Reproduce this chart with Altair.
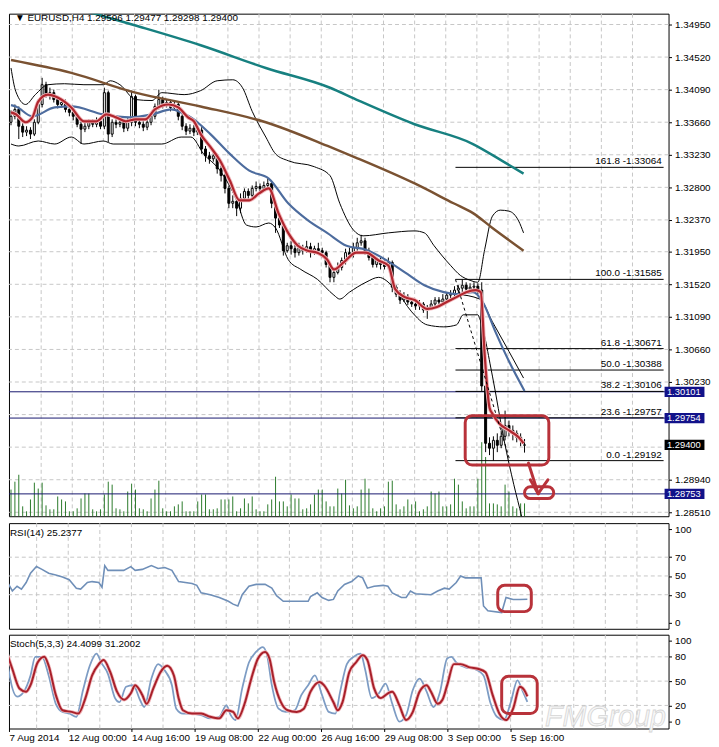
import json
import altair as alt
import pandas as pd

FONT = "Liberation Sans"

# ---------------- candles (bar index 0..132) ----------------
opens = [1.33659,1.33738,1.33829,1.33607,1.33529,1.33555,1.33503,1.33659,1.33894,1.34155,
         1.34024,1.34050,1.33959,1.33894,1.33920,1.33829,1.33790,1.33738,1.33633,1.33568,
         1.33607,1.33659,1.33633,1.33672,1.33607,1.34050,1.33503,1.33659,1.33633,1.33659,
         1.33581,1.33659,1.33998,1.33659,1.33633,1.33594,1.33659,1.33738,1.33868,1.33959,
         1.33894,1.33920,1.33855,1.33894,1.33738,1.33607,1.33542,1.33581,1.33529,1.33555,
         1.33307,1.33216,1.33177,1.33216,1.33046,1.32955,1.32786,1.32590,1.32616,1.32525,
         1.32655,1.32747,1.32694,1.32786,1.32812,1.32786,1.32825,1.32851,1.32590,1.32394,
         1.32303,1.31964,1.32029,1.31990,1.31938,1.32003,1.31964,1.32016,1.31938,1.31990,
         1.31964,1.31938,1.31782,1.31612,1.31677,1.31742,1.31834,1.31938,1.31912,1.32003,
         1.32068,1.32094,1.31964,1.31873,1.31782,1.31834,1.31782,1.31755,1.31808,1.31482,
         1.31390,1.31312,1.31351,1.31286,1.31260,1.31234,1.31260,1.31182,1.31208,1.31260,
         1.31312,1.31286,1.31325,1.31377,1.31390,1.31443,1.31469,1.31508,1.31456,1.31482,
         1.31495,1.31443,1.30178,1.29421,1.29356,1.29460,1.29395,1.29513,1.29656,1.29591,
         1.29552,1.29500,1.29396]
highs = [1.33816,1.33894,1.33868,1.33646,1.33607,1.33594,1.33698,1.33959,1.34246,1.34194,
         1.34116,1.34090,1.33998,1.33959,1.33959,1.33868,1.33829,1.33777,1.33672,1.33659,
         1.33698,1.33698,1.33724,1.33724,1.34116,1.34077,1.33698,1.33698,1.33711,1.33698,
         1.33711,1.34077,1.34024,1.33698,1.33672,1.33711,1.33790,1.33907,1.34090,1.33998,
         1.33959,1.33959,1.33933,1.33920,1.33764,1.33646,1.33633,1.33620,1.33607,1.33594,
         1.33346,1.33268,1.33268,1.33242,1.33086,1.32981,1.32825,1.32694,1.32655,1.32720,
         1.32786,1.32786,1.32825,1.32877,1.32851,1.32877,1.32916,1.32877,1.32616,1.32460,
         1.32329,1.32068,1.32094,1.32042,1.32068,1.32042,1.32094,1.32068,1.32029,1.32068,
         1.32003,1.31964,1.31808,1.31742,1.31808,1.31873,1.31990,1.32003,1.32068,1.32134,
         1.32173,1.32134,1.32003,1.31912,1.31873,1.31873,1.31834,1.31873,1.31834,1.31508,
         1.31443,1.31416,1.31390,1.31325,1.31312,1.31312,1.31286,1.31247,1.31312,1.31351,
         1.31351,1.31390,1.31416,1.31443,1.31495,1.31508,1.31585,1.31547,1.31534,1.31547,
         1.31534,1.31547,1.30243,1.29500,1.29513,1.29552,1.29591,1.29852,1.29721,1.29656,
         1.29591,1.29552,1.29477]
lows = [1.33620,1.33698,1.33438,1.33464,1.33477,1.33438,1.33477,1.33633,1.33855,1.33985,
        1.33959,1.33920,1.33842,1.33855,1.33790,1.33738,1.33685,1.33594,1.33372,1.33529,
        1.33568,1.33594,1.33594,1.33568,1.33568,1.33399,1.33464,1.33581,1.33594,1.33529,
        1.33542,1.33607,1.33607,1.33581,1.33542,1.33555,1.33620,1.33698,1.33829,1.33842,
        1.33855,1.33803,1.33816,1.33685,1.33555,1.33490,1.33503,1.33477,1.33490,1.33242,
        1.33138,1.33112,1.33138,1.32981,1.32877,1.32720,1.32525,1.32525,1.32420,1.32460,
        1.32616,1.32616,1.32655,1.32747,1.32720,1.32747,1.32786,1.32525,1.32199,1.32264,
        1.31899,1.31938,1.31912,1.31873,1.31899,1.31912,1.31938,1.31873,1.31912,1.31912,
        1.31873,1.31742,1.31547,1.31547,1.31651,1.31703,1.31782,1.31860,1.31873,1.31964,
        1.32029,1.31912,1.31834,1.31742,1.31742,1.31716,1.31716,1.31716,1.31416,1.31351,
        1.31260,1.31286,1.31247,1.31221,1.31182,1.31182,1.31143,1.31064,1.31182,1.31221,
        1.31234,1.31247,1.31286,1.31325,1.31351,1.31390,1.31416,1.31416,1.31416,1.31416,
        1.31390,1.30112,1.29304,1.29265,1.29192,1.29304,1.29356,1.29460,1.29513,1.29460,
        1.29434,1.29382,1.29298]
closes = [1.33738,1.33829,1.33607,1.33529,1.33555,1.33503,1.33659,1.33894,1.34155,1.34024,
          1.34050,1.33959,1.33894,1.33920,1.33829,1.33790,1.33738,1.33633,1.33568,1.33607,
          1.33659,1.33633,1.33672,1.33607,1.34050,1.33503,1.33659,1.33633,1.33659,1.33581,
          1.33659,1.33998,1.33659,1.33633,1.33594,1.33659,1.33738,1.33868,1.33959,1.33894,
          1.33920,1.33855,1.33894,1.33738,1.33607,1.33542,1.33581,1.33529,1.33555,1.33307,
          1.33216,1.33177,1.33216,1.33046,1.32955,1.32786,1.32590,1.32616,1.32525,1.32655,
          1.32747,1.32694,1.32786,1.32812,1.32786,1.32825,1.32851,1.32590,1.32394,1.32303,
          1.31964,1.32029,1.31990,1.31938,1.32003,1.31964,1.32016,1.31938,1.31990,1.31964,
          1.31938,1.31782,1.31612,1.31677,1.31742,1.31834,1.31938,1.31912,1.32003,1.32068,
          1.32094,1.31964,1.31873,1.31782,1.31834,1.31782,1.31755,1.31808,1.31482,1.31390,
          1.31312,1.31351,1.31286,1.31260,1.31234,1.31260,1.31182,1.31208,1.31260,1.31312,
          1.31286,1.31325,1.31377,1.31390,1.31443,1.31469,1.31508,1.31456,1.31482,1.31495,
          1.31443,1.30178,1.29421,1.29356,1.29460,1.29395,1.29513,1.29656,1.29591,1.29552,
          1.29500,1.29460,1.29400]
volumes = [2700,3500,4200,1000,500,1700,3400,2800,3400,1100,700,700,2000,1700,1500,500,500,800,
           1800,2300,2300,700,500,700,2200,3500,3200,800,700,500,2500,3300,2700,800,700,500,
           1800,2700,3600,800,500,500,1000,1200,1500,500,500,500,1500,2200,2200,700,700,800,
           1700,1700,1700,2000,500,800,1800,1300,2000,700,500,500,1200,1700,4000,1500,1500,1000,
           2200,1800,1800,700,800,1200,2200,2700,2700,1500,1000,1000,2800,2300,3700,1100,800,1000,
           2700,3800,2800,800,500,800,1000,3500,3600,1200,700,1000,1700,1200,1500,500,700,1000,
           2500,2300,2500,1000,1000,1200,3800,3200,1500,800,1000,1000,3800,7500,6000,1300,1300,1200,
           1000,3200,2500,1000,800,1300,1300]

# ---------------- indicator lines (bar index, value) read at points ----------------
red_bar = [0,1.25,3.75,5.5,7,9.5,12,15.5,18.75,22,24.5,27,29.5,32,34.5,37,40.5,43,45.5,47,
           48.75,51.25,53.75,56.25,58.75,61.25,63.75,66.25,68.75,71.25,73.75,76.25,78.75,81.25,83,85.5,
           88.75,91.25,94.5,97,98.75,101.25,103.75,107,109.5,112,114.5,117,119.5,120.75,121.75,123,
           123.75,125.5,128,130.5,131.75]
red_val = [1.33790,1.33764,1.33659,1.33724,1.33933,1.34024,1.33985,1.33855,1.33672,1.33672,
           1.33764,1.33724,1.33672,1.33698,1.33698,1.33829,1.33894,1.33855,1.33724,1.33672,
           1.33503,1.33333,1.33151,1.32890,1.32629,1.32629,1.32720,1.32786,1.32460,1.32199,
           1.32029,1.31964,1.31938,1.31847,1.31716,1.31808,1.31938,1.31938,1.31834,1.31768,
           1.31456,1.31351,1.31312,1.31195,1.31221,1.31286,1.31351,1.31416,1.31443,1.31416,
           1.30595,1.29891,1.29812,1.29682,1.29591,1.29500,1.29421]
blue_bar = [0,1.25,5.5,11.25,15.5,23.75,30.5,36.25,41.25,43.75,46.25,51.25,56.25,61.25,66.25,
            71.25,76.25,81.25,86.25,91.25,96.25,101.25,106.25,111.25,114.5,118.75,121.25,124.5,128,132]
blue_val = [1.33885,1.33868,1.33737,1.33855,1.33868,1.33763,1.33724,1.33763,1.33829,1.33789,
            1.33724,1.33503,1.33242,1.33020,1.32916,1.32590,1.32368,1.32199,1.32029,1.31977,
            1.31846,1.31677,1.31507,1.31416,1.31390,1.31416,1.31286,1.30895,1.30503,1.30112]
brown_bar = [0,15.5,32,48.75,65.5,82,88.75,103.75,113.75,118.75,123.75,131.75]
brown_val = [1.34481,1.34311,1.34050,1.33868,1.33659,1.33333,1.33190,1.32851,1.32590,1.32460,1.32264,1.31964]
teal_bar = [12,17,32,48.75,65.5,82,88.75,103.75,118.75,126.25,131.75]
teal_val = [1.35233,1.35159,1.34937,1.34676,1.34376,1.34115,1.33959,1.33633,1.33372,1.33150,1.32981]
bb_up_bar = [0,1.25,3.75,6.25,9.5,13.75,18.75,23.75,25.5,28,32,36.25,38.75,44.5,48.75,53,57,59.5,62,65.5,
             68,71.25,78,82,84.5,88,90.5,97,103.75,106.25,108.75,113,115.5,118,120,121.75,123.75,125.75,
             128,130.5,131.75]
bb_up_val = [1.34376,1.34063,1.33894,1.34024,1.34155,1.34168,1.34155,1.34155,1.34207,1.34155,
             1.33959,1.33946,1.34050,1.34024,1.34077,1.34207,1.34220,1.34116,1.33803,1.33464,
             1.33242,1.33151,1.33072,1.32955,1.32590,1.32238,1.32160,1.32199,1.32225,1.32199,
             1.32029,1.31768,1.31638,1.31573,1.31547,1.31977,1.32420,1.32499,1.32486,1.32355,1.32199]
bb_lo_bar = [0,2,7,11.25,15.5,18.75,23.75,26.25,32,38.75,43.75,46.25,49.5,53.75,58,60.5,63,66.25,68,71.25,
             74.5,78.75,83,84.5,87,91.25,94.5,98.75,103,107,111.25,114.5,116.25,120,120.5,123.75,126.75,
             129.25,131.25,132]
bb_lo_val = [1.33372,1.33346,1.33412,1.33372,1.33464,1.33372,1.33412,1.33372,1.33372,1.33372,
             1.33464,1.33464,1.33242,1.33020,1.32629,1.32303,1.32277,1.32329,1.32264,1.31847,
             1.31716,1.31586,1.31377,1.31325,1.31416,1.31547,1.31612,1.31456,1.31156,1.30984,
             1.30958,1.30984,1.31117,1.31117,1.31064,1.30308,1.29460,1.28874,1.28456,1.28287]
bb_mid_bar = [114.5,120.5,123.75,128,131.75]
bb_mid_val = [1.31390,1.31325,1.31025,1.30634,1.30282]

fib_names = ["161.8", "100.0", "61.8", "50.0", "38.2", "23.6", "0.0"]
fib_prices = [1.33064, 1.31585, 1.30671, 1.30388, 1.30106, 1.29757, 1.29192]
fib_anchor_bars = [114.25, 128.25]
fib_anchor_prices = [1.31585, 1.29192]

hline_prices = [1.30101, 1.29754, 1.28753]
last_price = 1.29400

price_ticks = [1.34950,1.34520,1.34090,1.33660,1.33230,1.32800,1.32370,1.31950,1.31520,
               1.31090,1.30660,1.30230,1.28940,1.28510]
price_grid = price_ticks + [1.29800, 1.29370]

rsi_bar = [0,1.6,2.8,3.9,5.1,6.2,7.7,9.1,10.8,12.6,14.3,16,17.8,18.9,20.6,21.8,23.5,24.3,25,25.8,
           27.6,29.8,31.6,32.7,34.5,36.8,38.5,40.2,42,43.7,47.1,48.3,49.4,51.7,54,56.3,57.5,58.7,59.8,61.5,
           63.3,65.6,67.3,68.5,70.2,72.5,74.8,76.5,77.1,78.8,80,81.7,82.9,84,85.7,87.5,89.2,90.3,91.5,93.2,
           95.5,96.7,97.8,100.1,101.3,102.4,103.6,107.6,109.3,111,112.2,114,115.1,116.3,120.3,120.9,122,
           125.5,126.6,128.4,130.1,132]
rsi_val = [46,34,39,36,43,53,60,57,53,51,49,46,37,36,43,44,43,38,61,56,
           56,56,60,56,57,61,58,59,56,44,42,40,32,30,27,23,20,18,30,39,
           41,41,37,29,23,23,23,23,28,32,27,24,25,34,41,44,50,48,37,39,
           40,39,32,27,27,34,31,30,34,37,36,43,50,48,48,18,13,11,27,25,25,25.2]
stoch_main_bar = [0,1.05,2.8,4.5,6.2,7.4,9.1,10.8,12.6,14.3,16,17.8,19.5,21.2,22.9,24.1,25.8,27.6,28.7,30.4,
                  32.2,33.9,35,36.8,38.5,40.2,42,43.1,44.8,47.1,49.4,51.7,54,55.8,56.9,58.1,59.8,61.5,63.3,65,
                  66.1,67.3,69,70.8,73.1,74.8,76.5,78.2,80,81.7,83.4,84.6,86.3,88,89.8,90.9,92.6,94.4,96.1,97.8,
                  99.6,101.3,103,104.7,106.5,108.2,109.9,111.7,112.8,114,116.3,118.6,120.9,122.6,124.3,126.1,
                  127.8,129.5,130.7,132]
stoch_main_val = [90,53,31,37,57,80,80,57,22,12,10,6,39,69,84,73,59,29,24,43,
                  45,27,18,53,71,63,45,16,10,10,8,4,6,20,8,2,41,73,86,92,
                  82,45,16,12,14,33,45,57,33,12,10,37,71,80,84,65,29,35,47,22,
                  0,8,39,53,37,18,37,78,80,73,67,65,57,24,6,2,24,51,39,24.4]
stoch_sig_bar = [0,1.6,3.4,5.1,6.2,8,9.7,10.8,12.6,14.3,16.6,18.3,20.1,21.8,23.5,24.7,26.4,28.1,29.9,31.6,
                 32.7,34.5,35.6,37.3,39.1,40.8,42.5,43.7,44.8,47.1,49.4,51.7,54,55.8,57.5,58.7,60.4,62.1,63.8,65.6,
                 66.7,67.9,69.6,71.3,73.6,75.4,77.1,79.4,80.5,82.9,84,85.2,86.9,88.6,90.3,91.5,93.2,94.9,96.7,97.8,
                 99.6,101.3,103,104.7,106.5,107.6,109.3,110.5,111.7,113.4,115.1,117.4,119.7,121.4,123.2,124.9,
                 126.6,128.4,130.1,131.2,132]
stoch_sig_val = [88,65,41,37,45,73,80,69,33,14,12,10,29,57,71,76,61,37,27,35,
                 45,33,22,41,61,69,57,29,14,10,10,6,4,14,12,4,22,53,78,86,
                 78,49,24,14,12,16,37,49,45,24,14,24,61,73,82,76,41,29,35,37,
                 20,2,12,37,45,37,22,27,45,71,71,67,65,61,33,10,2,16,43,39,31.2]

date_labels = ["7 Aug 2014", "12 Aug 00:00", "14 Aug 16:00", "19 Aug 08:00", "22 Aug 00:00",
               "26 Aug 16:00", "29 Aug 08:00", "3 Sep 00:00", "5 Sep 16:00"]
date_bars = [0.75, 15.75, 31.75, 47.75, 63.75, 79.75, 95.75, 111.75, 127.75]
grid_bars = [7.75, 15.75, 23.75, 31.75, 39.75, 47.75, 55.75, 63.75, 71.75, 79.75, 87.75, 95.75,
             103.75, 111.75, 119.75, 127.75, 135.75, 143.75, 151.75, 159.75]

# analyst's annotations (bar index / value anchors)
box_main = dict(x0=116.75, x1=138.25, p0=1.29134, p1=1.29786)
box_small = dict(x0=132.0, x1=139.5, p0=1.28691, p1=1.28848)
arrow_seg = ["shaft", "shaft", "left", "left", "right", "right"]
arrow_bar = [133.0, 135.5, 133.5, 135.5, 138.0, 135.5]
arrow_price = [1.29160, 1.28756, 1.28939, 1.28756, 1.28939, 1.28756]
box_rsi = dict(x0=124.5, x1=133.0, p0=12, p1=40)
box_stoch = dict(x0=125.5, x1=134.5, p0=10, p1=56)

# ---------------- scales & axes ----------------
W = 668
H_MAIN, H_RSI, H_STOCH = 509, 107, 95
XS = alt.Scale(domain=[0.75, 167.75], nice=False, zero=False)
PS = alt.Scale(domain=[1.28458, 1.35093], nice=False, zero=False)
VS = alt.Scale(domain=[0, 50900], nice=False, zero=True)
RS = alt.Scale(domain=[-6.3, 106.3], nice=False, zero=False)
SS = alt.Scale(domain=[-8.5, 107.3], nice=False, zero=False)
GRID = "#c6c6c6"
RED = "#b8323a"


def right_axis(values, fmt=None):
    kw = dict(orient="right", values=values, grid=False, domain=False, ticks=True, tickSize=3,
              tickColor="black", labelColor="black", labelFont=FONT, labelFontSize=10,
              labelPadding=3, labelOverlap=False, labelFlush=False, title=None)
    if fmt:
        kw["format"] = fmt
    return alt.Axis(**kw)


PRICE_AX = right_axis(price_ticks, ".5f")
RSI_AX = right_axis([0, 30, 50, 70, 100])
STOCH_AX = right_axis([0, 20, 50, 80, 100])
DATE_AX = alt.Axis(orient="bottom", values=date_bars,
                   labelExpr=json.dumps(date_labels) + "[round((datum.value + 0.25) / 16)]",
                   labelAlign="left", grid=False, domain=False, ticks=True, tickSize=3,
                   tickColor="black", labelColor="black", labelFont=FONT, labelFontSize=10,
                   labelPadding=1, labelOverlap=False, labelFlush=False, labelBound=False, title=None)


def X(field, xa):
    return alt.X(f"{field}:Q", scale=XS, axis=xa)


def Y(field, scale, ya):
    return alt.Y(f"{field}:Q", scale=scale, axis=ya)


def vgrid(xa):
    return alt.Chart(pd.DataFrame({"i": grid_bars})).mark_rule(
        color=GRID, strokeDash=[4, 3], strokeWidth=1).encode(x=X("i", xa))


def hgrid(vals, scale, ya):
    return alt.Chart(pd.DataFrame({"v": vals})).mark_rule(
        color=GRID, strokeDash=[4, 3], strokeWidth=1).encode(y=Y("v", scale, ya))


def series(bars, vals, color, width, scale, xa, ya, dash=None, interp="monotone"):
    kw = dict(color=color, strokeWidth=width, clip=True, interpolate=interp)
    if dash:
        kw["strokeDash"] = dash
    return alt.Chart(pd.DataFrame({"i": bars, "v": vals})).mark_line(**kw).encode(
        x=X("i", xa), y=Y("v", scale, ya))


def box(b, scale, xa, ya):
    return alt.Chart(pd.DataFrame([b])).mark_rect(
        fillOpacity=0, stroke=RED, strokeWidth=3, cornerRadius=7).encode(
        x=X("x0", xa), x2="x1:Q", y=Y("p0", scale, ya), y2="p1:Q")


def label(i, v, text, scale, xa, ya, size=10):
    return alt.Chart(pd.DataFrame({"i": [i], "v": [v], "t": [text]})).mark_text(
        align="left", baseline="middle", font=FONT, fontSize=size, color="black").encode(
        x=X("i", xa), y=Y("v", scale, ya), text="t:N")


# ---------------- main price panel ----------------
candles = pd.DataFrame({"i": list(range(len(closes))), "open": opens, "high": highs,
                        "low": lows, "close": closes, "vol": volumes})
candles["top"] = candles[["open", "close"]].max(axis=1)
candles["bot"] = candles[["open", "close"]].min(axis=1)

xa, ya = None, PRICE_AX

bg_main = alt.layer(vgrid(None), hgrid(price_grid, PS, None))

vol = alt.Chart(candles).mark_rule(color="#2a7a2a", strokeWidth=1).encode(
    x=X("i", None), y=alt.Y("vol:Q", scale=VS, axis=None), y2=alt.datum(0))

navy = alt.Chart(pd.DataFrame({"p": hline_prices})).mark_rule(color="#16166e", strokeWidth=1).encode(
    y=Y("p", PS, ya))

fib_df = pd.DataFrame({"p": fib_prices,
                       "lab": [f"{n} -{p:.5f}" for n, p in zip(fib_names, fib_prices)],
                       "x0": fib_anchor_bars[0], "x1": 167.75, "tx": 167.25})
fib_rules = alt.Chart(fib_df).mark_rule(color="black", strokeWidth=1).encode(
    x=X("x0", xa), x2="x1:Q", y=Y("p", PS, ya))
fib_text = alt.Chart(fib_df).mark_text(align="right", baseline="bottom", dy=-1, font=FONT,
                                        fontSize=10, color="black").encode(
    x=X("tx", xa), y=Y("p", PS, ya), text="lab:N")
fib_diag = alt.Chart(pd.DataFrame({"i": fib_anchor_bars, "v": fib_anchor_prices})).mark_line(
    color="black", strokeWidth=1, strokeDash=[3, 3]).encode(x=X("i", xa), y=Y("v", PS, ya))

wicks = alt.Chart(candles).mark_rule(color="black", strokeWidth=1, clip=True).encode(
    x=X("i", xa), y=Y("low", PS, ya), y2="high:Q")
bodies = alt.Chart(candles).mark_bar(size=2, stroke="black", strokeWidth=1, clip=True).encode(
    x=X("i", xa), y=Y("bot", PS, ya), y2="top:Q",
    fill=alt.condition("datum.close >= datum.open", alt.value("white"), alt.value("black")))

lab_df = pd.DataFrame({"p": hline_prices + [last_price],
                       "bg": ["#12128a", "#12128a", "#12128a", "#000000"]})
lab_df["lab"] = [f"{p:.5f}" for p in lab_df["p"]]
lab_df["lo"] = lab_df["p"] - 0.00068
lab_df["hi"] = lab_df["p"] + 0.00068
lab_df["x0"] = 168.0
lab_df["x1"] = 178.25
lab_df["tx"] = 168.6
lab_rects = alt.Chart(lab_df).mark_rect().encode(
    x=X("x0", xa), x2="x1:Q", y=Y("lo", PS, ya), y2="hi:Q", color=alt.Color("bg:N", scale=None))
lab_text = alt.Chart(lab_df).mark_text(align="left", baseline="middle", font=FONT, fontSize=9.5,
                                        color="white").encode(x=X("tx", xa), y=Y("p", PS, ya), text="lab:N")

arrow = alt.Chart(pd.DataFrame({"seg": arrow_seg, "i": arrow_bar, "v": arrow_price})).mark_line(
    color=RED, strokeWidth=3, strokeCap="round").encode(x=X("i", xa), y=Y("v", PS, ya), detail="seg:N")

fg_main = alt.layer(
    navy, fib_rules, wicks, bodies,
    series(bb_up_bar, bb_up_val, "black", 1, PS, xa, ya),
    series(bb_lo_bar, bb_lo_val, "black", 1, PS, xa, ya),
    series(bb_mid_bar, bb_mid_val, "black", 1, PS, xa, ya),
    series(teal_bar, teal_val, "#178080", 2.5, PS, xa, ya),
    series(brown_bar, brown_val, "#7a5232", 2.5, PS, xa, ya),
    series(blue_bar, blue_val, "#4d6c9e", 2.2, PS, xa, ya),
    series(red_bar, red_val, "#f2b8bc", 4, PS, xa, ya),
    series(red_bar, red_val, "#b0262e", 2.2, PS, xa, ya),
    fib_diag, fib_text, lab_rects, lab_text,
    box(box_main, PS, xa, ya), box(box_small, PS, xa, ya), arrow,
    label(1.0, 1.35030, "\u25BC EURUSD,H4  1.29596 1.29477 1.29298 1.29400", PS, xa, ya),
)

main = alt.layer(bg_main, vol, fg_main).resolve_scale(y="independent").properties(
    width=W, height=H_MAIN)

# ---------------- RSI panel ----------------
xa, ya = None, RSI_AX
rsi = alt.layer(
    vgrid(xa), hgrid([30, 50, 70], RS, ya),
    series(rsi_bar, rsi_val, "#6f8fb8", 1.6, RS, xa, ya, interp="linear"),
    box(box_rsi, RS, xa, ya),
    label(1.0, 95.5, "RSI(14) 25.2377", RS, xa, ya),
).properties(width=W, height=H_RSI)

# ---------------- Stochastic panel ----------------
xa, ya = DATE_AX, STOCH_AX
watermark = alt.Chart(pd.DataFrame({"i": [136.5], "v": [6.0], "t": ["FMGroup"]})).mark_text(
    align="left", baseline="middle", font=FONT, fontSize=29, fontStyle="italic",
    color="#f7f7f7", stroke="#d6d6d6", strokeWidth=0.8).encode(x=X("i", xa), y=Y("v", SS, ya), text="t:N")
stoch = alt.layer(
    watermark, vgrid(xa), hgrid([20, 50, 80], SS, ya),
    series(stoch_main_bar, stoch_main_val, "#7d9cc4", 1.8, SS, xa, ya),
    series(stoch_sig_bar, stoch_sig_val, "#f0b4b8", 3.5, SS, xa, ya),
    series(stoch_sig_bar, stoch_sig_val, "#a8202a", 2, SS, xa, ya),
    box(box_stoch, SS, xa, ya),
    label(1.0, 96.0, "Stoch(5,3,3) 24.4099 31.2002", SS, xa, ya),
).properties(width=W, height=H_STOCH)

chart = alt.vconcat(main, rsi, stoch, spacing=4).resolve_scale(
    x="independent", y="independent").properties(
    padding={"left": 0, "top": 0, "right": 0, "bottom": 0}, background="white"
).configure_view(stroke="black", strokeWidth=1)

chart.save("out.html", embed_options={"renderer": "svg", "actions": False})
